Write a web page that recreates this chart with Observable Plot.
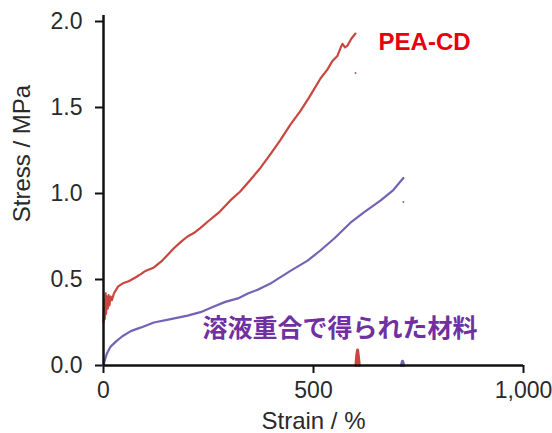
<!DOCTYPE html>
<html>
<head>
<meta charset="utf-8">
<script src="https://cdn.jsdelivr.net/npm/d3@7"></script>
<script src="https://cdn.jsdelivr.net/npm/@observablehq/plot@0.6"></script>
<style>
  html, body { margin: 0; padding: 0; background: #fff; }
</style>
</head>
<body>
<div id="chart"></div>
<script>
// Strain (%) , Stress (MPa)
const peaCD = [
  [0,0.25],[2,0.38],[3,0.27],[5,0.42],[6,0.30],[8,0.40],[10,0.33],[12,0.41],[14,0.35],
  [17,0.40],[20,0.38],[25,0.42],[35,0.46],[48,0.48],[60,0.49],[75,0.51],[88,0.53],
  [100,0.55],[120,0.57],[140,0.61],[167,0.68],[185,0.72],[200,0.75],[215,0.77],[231,0.80],
  [250,0.84],[275,0.89],[302,0.96],[325,1.01],[350,1.08],[374,1.15],[398,1.23],[421,1.31],
  [445,1.40],[469,1.48],[490,1.56],[517,1.67],[533,1.72],[545,1.77],[557,1.80],[565,1.85],
  [569,1.87],[575,1.85],[581,1.86],[590,1.90],[600,1.93]
];
const peaCDBreak = [[601,0],[603,0.06],[605,0.09],[607,0.05],[609,0]];
const peaCDDot = [[600,1.70]];

const solution = [
  [0,0],[3,0.03],[8,0.07],[17,0.11],[30,0.14],[45,0.17],[65,0.20],[88,0.22],[120,0.25],
  [160,0.27],[200,0.29],[231,0.31],[260,0.34],[290,0.37],[320,0.39],[345,0.42],[367,0.44],
  [400,0.48],[445,0.55],[486,0.61],[517,0.67],[550,0.74],[588,0.83],[620,0.89],[660,0.96],
  [690,1.02],[714,1.09]
];
const solutionBreak = [[709,0],[712,0.025],[715,0]];
const solutionDot = [[714,0.95]];

const xTicks = [0, 500, 1000];
const yTicks = [0, 0.5, 1.0, 1.5, 2.0];
const xLabel = "Strain / %";
const yLabel = "Stress / MPa";
const seriesLabels = [
  {x: 655, y: 1.88, text: "PEA-CD", key: "pea"},
  {x: 236, y: 0.215, text: "溶液重合で得られた材料", key: "sol"}
];

const red = "#c8463f";
const purple = "#7462b4";

const chart = Plot.plot({
  width: 552,
  height: 433,
  marginLeft: 103,
  marginRight: 29,
  marginTop: 21,
  marginBottom: 68,
  style: {fontFamily: "'Liberation Sans', Arial, sans-serif", background: "#fff", color: "#222"},
  x: {domain: [0, 1000]},
  y: {domain: [0, 2]},
  marks: [
    Plot.axisY({ticks: yTicks, tickFormat: d3.format(".1f"), tickSize: 8, tickPadding: 13,
      label: null, fontSize: 23, strokeWidth: 2, stroke: "#111", fill: "#2a2a2a"}),
    Plot.axisX({ticks: xTicks, tickFormat: d3.format(","), tickSize: 8, tickPadding: 8,
      label: null, fontSize: 23, strokeWidth: 2, stroke: "#111", fill: "#2a2a2a"}),
    Plot.line(peaCD, {x: d => d[0], y: d => d[1], stroke: red, strokeWidth: 2.2}),
    Plot.line(peaCDBreak, {x: d => d[0], y: d => d[1], stroke: red, strokeWidth: 3}),
    Plot.dot(peaCDDot, {x: d => d[0], y: d => d[1], r: 1, fill: "#a06060"}),
    Plot.line(solution, {x: d => d[0], y: d => d[1], stroke: purple, strokeWidth: 2.2}),
    Plot.line(solutionBreak, {x: d => d[0], y: d => d[1], stroke: purple, strokeWidth: 3}),
    Plot.dot(solutionDot, {x: d => d[0], y: d => d[1], r: 1, fill: "#8070a0"}),
    Plot.ruleX([0], {y1: 0, y2: 2.035, stroke: "#111", strokeWidth: 2.5}),
    Plot.ruleY([0], {x1: 0, x2: 1000, stroke: "#111", strokeWidth: 2.5}),
    Plot.text(seriesLabels.filter(d => d.key === "pea"), {x: "x", y: "y", text: "text",
      textAnchor: "start", fill: "#e8000e", fontSize: 24, fontWeight: "bold",
      fontFamily: "'Liberation Sans', Arial, sans-serif"}),
    Plot.text(seriesLabels.filter(d => d.key === "sol"), {x: "x", y: "y", text: "text",
      textAnchor: "start", fill: "#7030a0", fontSize: 25, fontWeight: "bold",
      fontFamily: "'Noto Sans CJK JP', sans-serif"}),
    Plot.text([yLabel], {frameAnchor: "left", dx: -81, dy: -40, rotate: -90,
      textAnchor: "middle", fontSize: 24, fill: "#2a2a2a"}),
    Plot.text([xLabel], {frameAnchor: "bottom", dy: 63, textAnchor: "middle",
      fontSize: 24, fill: "#2a2a2a"})
  ]
});
document.getElementById("chart").appendChild(chart);
</script>
</body>
</html>
